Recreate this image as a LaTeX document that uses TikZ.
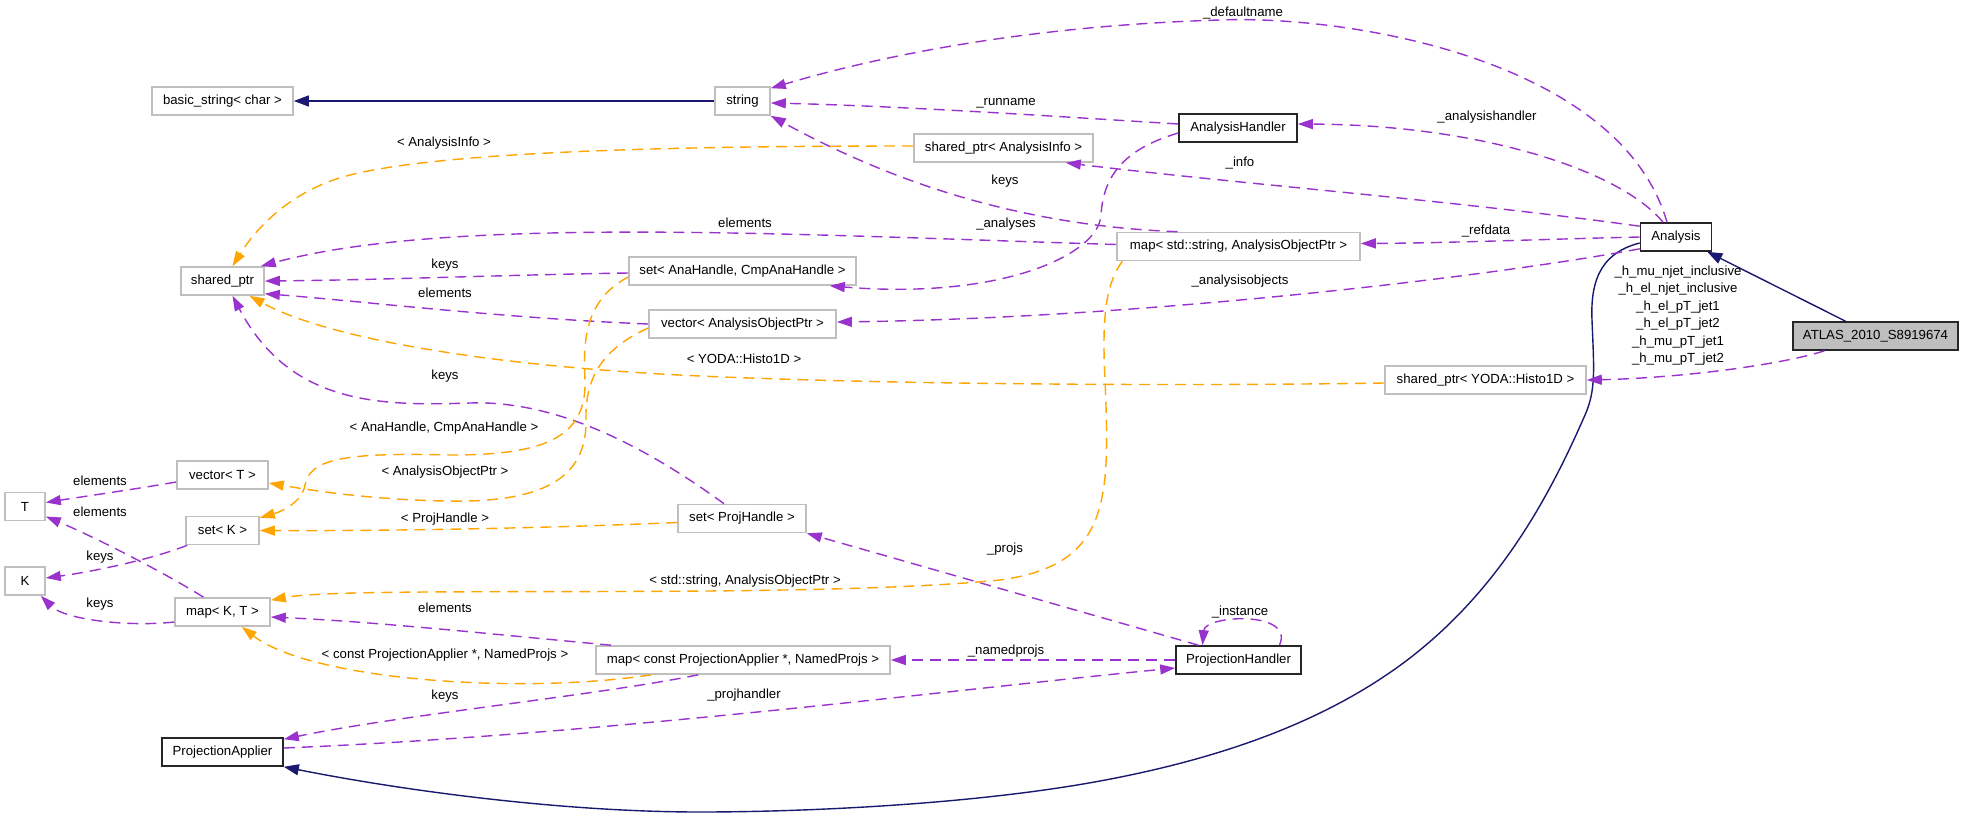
\documentclass[tikz,border=0pt]{standalone}
\usepackage{fontspec}
\setmainfont{Liberation Sans}
\usetikzlibrary{arrows.meta}
\definecolor{epurple}{HTML}{9A32CD}
\definecolor{eorange}{HTML}{FFA500}
\definecolor{enavy}{HTML}{191970}
\definecolor{egray}{HTML}{BFBFBF}
\begin{document}
\begin{tikzpicture}[x=1pt,y=-1pt,
  every node/.style={font=\fontsize{13.2}{17.4}\selectfont, inner sep=0pt},
  ext/.style={draw=egray, line width=1.6pt, minimum height=28pt},
  doc/.style={draw=black!85, line width=1.6pt, minimum height=28pt},
  use/.style={epurple, line width=1.4pt, dash pattern=on 11pt off 7pt, -{Triangle[length=15pt,width=10pt]}},
  tmpl/.style={eorange, line width=1.4pt, dash pattern=on 11pt off 7pt, -{Triangle[length=15pt,width=10pt]}},
  inh/.style={enavy, line width=1.4pt, -{Triangle[length=15pt,width=11pt]}}]
\useasboundingbox (0,0) rectangle (1963,820);
\fill[white] (0,0) rectangle (1963,820);
% nodes
\node[ext, minimum width=141pt] (bstr) at (222.5,101) {basic\_string< char >};
\node[ext, minimum width=55pt] (string) at (742.5,101) {string};
\node[doc, minimum width=118pt] (AH) at (1238,128) {AnalysisHandler};
\node[ext, minimum width=179pt] (spAI) at (1003.5,148) {shared\_ptr< AnalysisInfo >};
\node[ext, minimum width=83pt] (sp) at (222.5,281) {shared\_ptr};
\node[ext, minimum width=227pt] (setAna) at (742.5,271) {set< AnaHandle, CmpAnaHandle >};
\node[ext, minimum width=243pt] (mapStd) at (1238.5,246.5) {map< std::string, AnalysisObjectPtr >};
\node[doc, minimum width=71pt] (Analysis) at (1676,237) {Analysis};
\node[doc, fill=egray, minimum width=165pt] (ATLAS) at (1875.5,336) {ATLAS\_2010\_S8919674};
\node[ext, minimum width=187pt] (vecAOP) at (742.5,324) {vector< AnalysisObjectPtr >};
\node[ext, minimum width=201pt] (spYODA) at (1485.5,380) {shared\_ptr< YODA::Histo1D >};
\node[ext, minimum width=91pt] (vecT) at (222.5,475) {vector< T >};
\node[ext, minimum width=40pt] (T) at (25,506.5) {T};
\node[ext, minimum width=73pt] (setK) at (222.5,530.5) {set< K >};
\node[ext, minimum width=128pt] (setPH) at (742,518.5) {set< ProjHandle >};
\node[ext, minimum width=40pt] (K) at (25,581) {K};
\node[ext, minimum width=95pt] (mapKT) at (222.5,612) {map< K, T >};
\node[ext, minimum width=294pt] (mapConst) at (743,660) {map< const ProjectionApplier *, NamedProjs >};
\node[doc, minimum width=125pt] (PH) at (1238.5,660) {ProjectionHandler};
\node[doc, minimum width=121pt] (PA) at (222.5,752) {ProjectionApplier};
% inheritance
\draw[inh] (string.west) -- (bstr.east);
\draw[inh] ([xshift=-30pt]ATLAS.north) -- ([xshift=-5pt]Analysis.south east);
\draw[inh] ([yshift=-6pt]Analysis.west) .. controls (1605,252) and (1590,275) .. (1592,320)
  .. controls (1594,370) and (1596,390) .. (1585,415)
  .. controls (1550,495) and (1500,590) .. (1406,661)
  .. controls (1330,718) and (1230,757) .. (1100,781)
  .. controls (970,805) and (800,812) .. (700,812)
  .. controls (560,812) and (400,790) .. (PA.south east);
% usage edges
\draw[use] ([xshift=-9pt]Analysis.north) .. controls (1620,60) and (1350,15) .. (1220,20) .. controls (1050,25) and (900,50) .. ([yshift=-2pt]string.north east);
\draw[use] ([yshift=4pt]AH.west) .. controls (1050,116) and (900,106) .. ([yshift=-2pt]string.east);
\draw[use] ([xshift=-13pt]Analysis.north) .. controls (1620,170) and (1480,125) .. ([yshift=4pt]AH.east);
\draw[use] ([yshift=-4pt]Analysis.north west) .. controls (1450,200) and (1250,185) .. ([xshift=-28pt]spAI.south east);
\draw[use] (Analysis.west) .. controls (1550,239) and (1450,243) .. ([yshift=3pt]mapStd.east);
\draw[use] ([yshift=3pt]Analysis.south west) .. controls (1500,275) and (1150,318) .. ([yshift=2pt]vecAOP.east);
\draw[use] ([xshift=-51pt]ATLAS.south) .. controls (1780,365) and (1680,378) .. (spYODA.east);
\draw[use] (vecAOP.west) .. controls (500,318) and (350,300) .. ([yshift=2pt]sp.south east);
\draw[use] ([yshift=-2pt]setAna.west) .. controls (500,275) and (380,280) .. (sp.east);
\draw[use] ([yshift=2pt]mapStd.west) .. controls (800,235) and (450,215) .. ([xshift=-4pt]sp.north east);
\draw[use] ([xshift=-61pt]mapStd.north) .. controls (1000,225) and (870,170) .. (string.south east);
\draw[use] ([yshift=-5pt]AH.west) .. controls (1120,150) and (1103,180) .. (1101,215) .. controls (1099,255) and (1000,300) .. ([xshift=-27pt]setAna.south east);
\draw[use] ([xshift=-18pt]setPH.north) .. controls (650,450) and (560,400) .. (470,403) .. controls (380,406) and (290,405) .. ([xshift=10pt]sp.south);
\draw[use] ([yshift=-7pt]vecT.west) .. controls (130,490) and (80,497) .. ([yshift=4pt]T.east);
\draw[use] ([xshift=-19pt]mapKT.north) .. controls (160,570) and (90,535) .. ([yshift=-10pt]T.east);
\draw[use] ([xshift=2pt]setK.south west) .. controls (150,560) and (90,572) .. ([yshift=3pt]K.east);
\draw[use] ([yshift=-10pt]mapKT.west) .. controls (130,627) and (65,620) .. ([xshift=-5pt]K.south east);
\draw[use] ([xshift=16pt]mapConst.north west) .. controls (500,635) and (380,622) .. ([yshift=-5pt]mapKT.east);
\draw[use] ([xshift=103pt]mapConst.south west) .. controls (600,695) and (400,715) .. ([yshift=-2pt]PA.north east);
\draw[use] (PH.west) -- (mapConst.east);
\draw[use] ([yshift=4pt]PA.east) .. controls (600,735) and (950,690) .. ([yshift=-8pt]PH.west);
\draw[use] ([xshift=-40pt]PH.north) -- (setPH.south east);
\draw[use] ([xshift=41pt]PH.north) .. controls (1295,610) and (1205,615) .. ([xshift=-36pt]PH.north);
% template edges
\draw[tmpl] ([yshift=2pt]spAI.west) .. controls (700,146) and (450,150) .. (350,175) .. controls (290,190) and (255,230) .. ([xshift=10pt]sp.north);
\draw[tmpl] ([yshift=-3pt]spYODA.west) .. controls (1200,386) and (900,385) .. (700,376) .. controls (500,367) and (330,340) .. ([xshift=27pt]sp.south);
\draw[tmpl] ([yshift=-6pt]setAna.west) .. controls (585,300) and (583,340) .. (585,380) .. controls (587,440) and (540,455) .. (450,455) .. controls (340,452) and (310,460) .. (305,485) .. controls (302,503) and (280,512) .. ([yshift=-2pt]setK.north east);
\draw[tmpl] ([yshift=-4pt]vecAOP.west) .. controls (600,350) and (585,380) .. (586,420) .. controls (587,480) and (540,503) .. (446,501) .. controls (380,500) and (320,492) .. ([yshift=-8pt]vecT.east);
\draw[tmpl] ([yshift=-4pt]setPH.west) .. controls (550,528) and (400,531) .. (setK.east);
\draw[tmpl] ([xshift=6pt]mapStd.south west) .. controls (1105,285) and (1102,320) .. (1105,380) .. controls (1110,500) and (1110,565) .. (1000,580) .. controls (800,600) and (350,585) .. ([yshift=-3pt]mapKT.north east);
\draw[tmpl] ([xshift=56pt]mapConst.south west) .. controls (520,695) and (310,680) .. ([xshift=-29pt]mapKT.south east);
% labels
\node (l1) at (1243,13) {\_defaultname};
\node (l2) at (1006,103) {\_runname};
\node (l3) at (1487,117) {\_analysishandler};
\node (l4) at (444,143) {< AnalysisInfo >};
\node (l5) at (1240,163) {\_info};
\node (l6) at (1005,181) {keys};
\node (l7) at (745,223) {elements};
\node (l8) at (1006,224) {\_analyses};
\node (l9) at (1486,231) {\_refdata};
\node (l10) at (445,265) {keys};
\node (l11) at (1240,281) {\_analysisobjects};
\node (l12) at (445,293) {elements};
\node[align=center] (l13) at (1678,315.5) {\_h\_mu\_njet\_inclusive\\\_h\_el\_njet\_inclusive\\\_h\_el\_pT\_jet1\\\_h\_el\_pT\_jet2\\\_h\_mu\_pT\_jet1\\\_h\_mu\_pT\_jet2};
\node (l14) at (744,359) {< YODA::Histo1D >};
\node (l15) at (445,376) {keys};
\node (l16) at (444,428) {< AnaHandle, CmpAnaHandle >};
\node (l17) at (445,472) {< AnalysisObjectPtr >};
\node (l18) at (100,481) {elements};
\node (l19) at (100,512) {elements};
\node (l20) at (445,519) {< ProjHandle >};
\node (l21) at (1005,549) {\_projs};
\node (l22) at (100,557) {keys};
\node (l23) at (745,581) {< std::string, AnalysisObjectPtr >};
\node (l24) at (100,604) {keys};
\node (l25) at (445,608) {elements};
\node (l26) at (1240,612) {\_instance};
\node (l27) at (1006,651) {\_namedprojs};
\node (l28) at (445,655) {< const ProjectionApplier *, NamedProjs >};
\node (l29) at (744,695) {\_projhandler};
\node (l30) at (445,696) {keys};
\end{tikzpicture}
\end{document}
